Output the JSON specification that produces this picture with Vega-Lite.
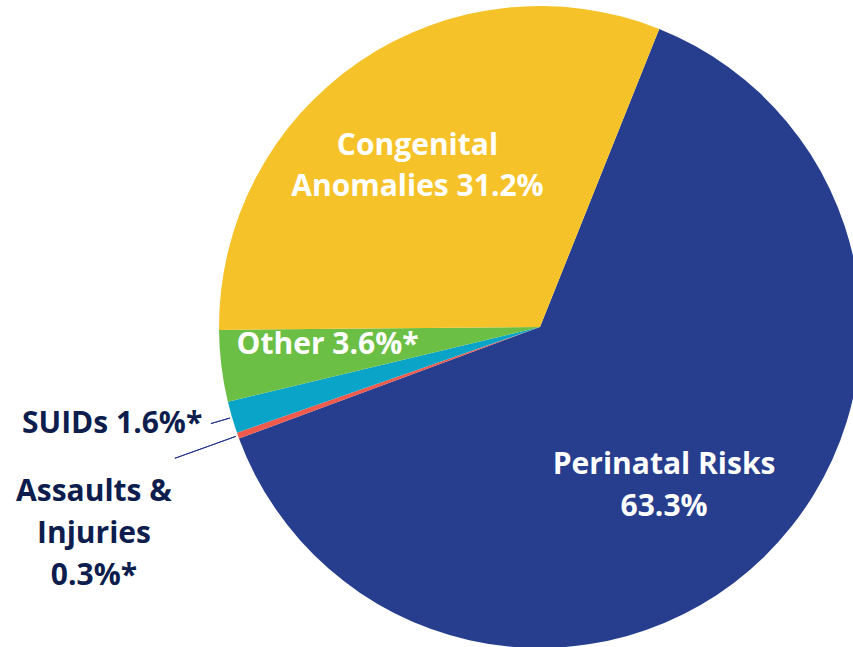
{
  "$schema": "https://vega.github.io/schema/vega-lite/v6.json",
  "width": 626,
  "height": 640,
  "autosize": {"type": "none"},
  "padding": {"left": 227, "top": 7, "right": 0, "bottom": 0},
  "background": "white",
  "config": {"view": {"stroke": null}},
  "data": {
    "values": [
      {"cause": "Perinatal Risks", "pct": 63.3, "ord": 1, "label": "Perinatal Risks\n63.3%"},
      {"cause": "Assaults & Injuries", "pct": 0.3, "ord": 2, "label": "Assaults &\nInjuries\n0.3%*"},
      {"cause": "SUIDs", "pct": 1.6, "ord": 3, "label": "SUIDs 1.6%*"},
      {"cause": "Other", "pct": 3.6, "ord": 4, "label": "Other 3.6%*"},
      {"cause": "Congenital Anomalies", "pct": 31.2, "ord": 5, "label": "Congenital\nAnomalies 31.2%"}
    ]
  },
  "encoding": {
    "theta": {"field": "pct", "type": "quantitative", "stack": true, "scale": {"domain": [0, 100], "range": [0.3805, 6.6637]}},
    "order": {"field": "ord", "type": "quantitative"}
  },
  "layer": [
    {
      "mark": {"type": "arc", "radius": 321},
      "encoding": {
        "color": {
          "field": "cause", "type": "nominal", "legend": null,
          "scale": {
            "domain": ["Perinatal Risks", "Assaults & Injuries", "SUIDs", "Other", "Congenital Anomalies"],
            "range": ["#263E8D", "#EE5A4C", "#0AA4C8", "#6CBF45", "#F6C229"]
          }
        }
      }
    },
    {
      "mark": {"type": "arc", "radius": 343, "radius2": 323, "padAngle": 0.3, "filled": false, "stroke": "#26398A", "strokeWidth": 1},
      "encoding": {
        "strokeOpacity": {"condition": {"test": "datum.cause === 'SUIDs'", "value": 1}, "value": 0}
      }
    },
    {
      "mark": {"type": "arc", "radius": 388, "radius2": 323, "padAngle": 0.3, "filled": false, "stroke": "#26398A", "strokeWidth": 1},
      "encoding": {
        "strokeOpacity": {"condition": {"test": "datum.cause === 'Assaults & Injuries'", "value": 1}, "value": 0}
      }
    },
    {
      "mark": {"type": "text", "radius": 203, "dx": -8, "dy": -13, "font": "Open Sans", "fontWeight": "bold", "fontSize": 30, "lineHeight": 41, "lineBreak": "\n", "color": "white", "align": "center", "baseline": "middle"},
      "encoding": {
        "text": {"condition": {"test": "datum.cause === 'Congenital Anomalies'", "field": "label"}, "value": ""}
      }
    },
    {
      "mark": {"type": "text", "radius": 205, "dx": -19, "dy": -9, "font": "Open Sans", "fontWeight": "bold", "fontSize": 30, "lineHeight": 42, "lineBreak": "\n", "color": "white", "align": "center", "baseline": "middle"},
      "encoding": {
        "text": {"condition": {"test": "datum.cause === 'Perinatal Risks'", "field": "label"}, "value": ""}
      }
    },
    {
      "mark": {"type": "text", "radius": 214, "dy": -8, "font": "Open Sans", "fontWeight": "bold", "fontSize": 30, "color": "white", "align": "center", "baseline": "middle"},
      "encoding": {
        "text": {"condition": {"test": "datum.cause === 'Other'", "field": "label"}, "value": ""}
      }
    },
    {
      "mark": {"type": "text", "radius": 352, "dy": -2, "font": "Open Sans", "fontWeight": "bold", "fontSize": 30, "color": "#0D1E4E", "align": "right", "baseline": "middle"},
      "encoding": {
        "text": {"condition": {"test": "datum.cause === 'SUIDs'", "field": "label"}, "value": ""}
      }
    },
    {
      "mark": {"type": "text", "radius": 474, "dy": 5, "font": "Open Sans", "fontWeight": "bold", "fontSize": 30, "lineHeight": 42, "lineBreak": "\n", "color": "#0D1E4E", "align": "center", "baseline": "middle"},
      "encoding": {
        "text": {"condition": {"test": "datum.cause === 'Assaults & Injuries'", "field": "label"}, "value": ""}
      }
    }
  ]
}
